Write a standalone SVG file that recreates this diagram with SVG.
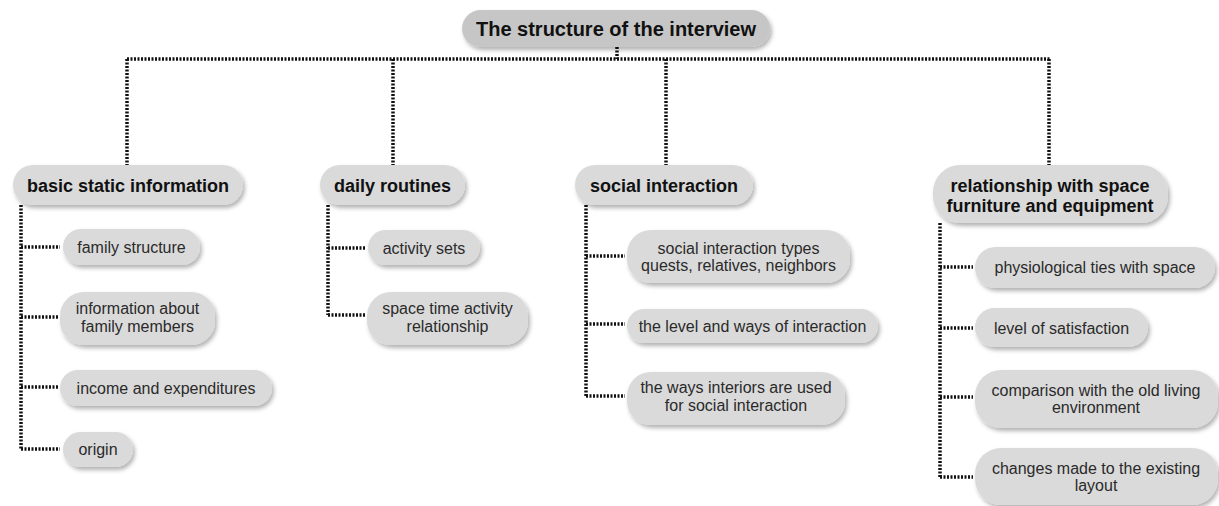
<svg xmlns="http://www.w3.org/2000/svg" width="1219" height="506" viewBox="0 0 1219 506">
  <defs>
    <filter id="shadow" x="-10%" y="-20%" width="125%" height="160%">
      <feDropShadow dx="2" dy="3" stdDeviation="2" flood-color="#000" flood-opacity="0.3"/>
    </filter>
    <style>
      .box { fill: #dadada; filter: url(#shadow); }
      .root { fill: #c6c6c6; filter: url(#shadow); }
      .t0 { font-family: "Liberation Sans", Arial, sans-serif; font-size: 20px; font-weight: bold; fill: #111; text-anchor: middle; }
      .t1 { font-family: "Liberation Sans", Arial, sans-serif; font-size: 18px; font-weight: bold; fill: #111; text-anchor: middle; }
      .t2 { font-family: "Liberation Sans", Arial, sans-serif; font-size: 16px; fill: #2a2a2a; text-anchor: middle; }
      .link { fill: none; stroke: #111; stroke-width: 3.5; stroke-dasharray: 2 1.5; }
    </style>
  </defs>
  <rect width="1219" height="506" fill="#ffffff"/>

  <!-- dotted connectors -->
  <g id="connectors" class="link">
    <line x1="617" y1="47" x2="617" y2="59"/>
    <line x1="127" y1="59" x2="1050" y2="59"/>
    <line x1="127" y1="59" x2="127" y2="165"/>
    <line x1="393" y1="59" x2="393" y2="165"/>
    <line x1="666" y1="59" x2="666" y2="165"/>
    <line x1="1049" y1="59" x2="1049" y2="165"/>

    <!-- basic static information -->
    <line x1="21" y1="205" x2="21" y2="449"/>
    <line x1="21" y1="247" x2="60" y2="247"/>
    <line x1="21" y1="317" x2="59" y2="317"/>
    <line x1="21" y1="387" x2="59" y2="387"/>
    <line x1="21" y1="449" x2="60" y2="449"/>

    <!-- daily routines -->
    <line x1="328" y1="205" x2="328" y2="315"/>
    <line x1="328" y1="248" x2="366" y2="248"/>
    <line x1="328" y1="315" x2="365" y2="315"/>

    <!-- social interaction -->
    <line x1="586" y1="205" x2="586" y2="396"/>
    <line x1="586" y1="256" x2="625" y2="256"/>
    <line x1="586" y1="324" x2="625" y2="324"/>
    <line x1="586" y1="396" x2="625" y2="396"/>

    <!-- relationship with space -->
    <line x1="940" y1="223" x2="940" y2="477"/>
    <line x1="940" y1="267" x2="973" y2="267"/>
    <line x1="940" y1="328" x2="973" y2="328"/>
    <line x1="940" y1="397" x2="973" y2="397"/>
    <line x1="940" y1="477" x2="973" y2="477"/>
  </g>

  <!-- root -->
  <g id="root">
    <rect class="root" x="462" y="10" width="308" height="37" rx="18.5"/>
    <text class="t0" x="616" y="35.5">The structure of the interview</text>
  </g>

  <!-- first level -->
  <g id="basic-static-information">
    <rect class="box" x="13" y="165" width="230" height="40" rx="20"/>
    <text class="t1" x="128" y="191.5">basic static information</text>
  </g>
  <g id="daily-routines">
    <rect class="box" x="320" y="165" width="145" height="40" rx="20"/>
    <text class="t1" x="392.5" y="191.5">daily routines</text>
  </g>
  <g id="social-interaction">
    <rect class="box" x="575" y="165" width="178" height="40" rx="20"/>
    <text class="t1" x="664" y="191.5">social interaction</text>
  </g>
  <g id="relationship-with-space">
    <rect class="box" x="933" y="165" width="235" height="58" rx="27"/>
    <text class="t1" x="1050" y="191.5">relationship with space</text>
    <text class="t1" x="1050" y="211.5">furniture and equipment</text>
  </g>

  <!-- basic static information items -->
  <g id="family-structure">
    <rect class="box" x="63" y="229" width="137" height="36" rx="18"/>
    <text class="t2" x="131.5" y="252.5">family structure</text>
  </g>
  <g id="family-members">
    <rect class="box" x="60" y="292" width="155" height="53" rx="24"/>
    <text class="t2" x="137.5" y="313.5">information about</text>
    <text class="t2" x="137.5" y="331.5">family members</text>
  </g>
  <g id="income">
    <rect class="box" x="60" y="370" width="212" height="36" rx="18"/>
    <text class="t2" x="166" y="393.5">income and expenditures</text>
  </g>
  <g id="origin">
    <rect class="box" x="63" y="432" width="70" height="35" rx="17.5"/>
    <text class="t2" x="98" y="454.5">origin</text>
  </g>

  <!-- daily routines items -->
  <g id="activity-sets">
    <rect class="box" x="368" y="230" width="112" height="35" rx="17.5"/>
    <text class="t2" x="424" y="253.5">activity sets</text>
  </g>
  <g id="space-time">
    <rect class="box" x="367" y="292" width="161" height="53" rx="24"/>
    <text class="t2" x="447.5" y="313.5">space time activity</text>
    <text class="t2" x="447.5" y="332">relationship</text>
  </g>

  <!-- social interaction items -->
  <g id="interaction-types">
    <rect class="box" x="627" y="230" width="223" height="53" rx="24"/>
    <text class="t2" x="738.5" y="253.5">social interaction types</text>
    <text class="t2" x="738.5" y="270.5">quests, relatives, neighbors</text>
  </g>
  <g id="level-and-ways">
    <rect class="box" x="627" y="309" width="251" height="34" rx="17"/>
    <text class="t2" x="752.5" y="331.5">the level and ways of interaction</text>
  </g>
  <g id="interiors-used">
    <rect class="box" x="627" y="372" width="218" height="53" rx="24"/>
    <text class="t2" x="736" y="392.5">the ways interiors are used</text>
    <text class="t2" x="736" y="410.5">for social interaction</text>
  </g>

  <!-- relationship with space items -->
  <g id="physiological-ties">
    <rect class="box" x="975" y="247" width="240" height="41" rx="20.5"/>
    <text class="t2" x="1095" y="272.5">physiological ties with space</text>
  </g>
  <g id="satisfaction">
    <rect class="box" x="975" y="308" width="173" height="39" rx="19.5"/>
    <text class="t2" x="1061.5" y="333.5">level of satisfaction</text>
  </g>
  <g id="comparison">
    <rect class="box" x="975" y="370" width="243" height="58" rx="26"/>
    <text class="t2" x="1096" y="395.5">comparison with the old living</text>
    <text class="t2" x="1096" y="412.5">environment</text>
  </g>
  <g id="changes-made">
    <rect class="box" x="975" y="448" width="243" height="57" rx="26"/>
    <text class="t2" x="1096" y="473.5">changes made to the existing</text>
    <text class="t2" x="1096" y="490.5">layout</text>
  </g>
</svg>
